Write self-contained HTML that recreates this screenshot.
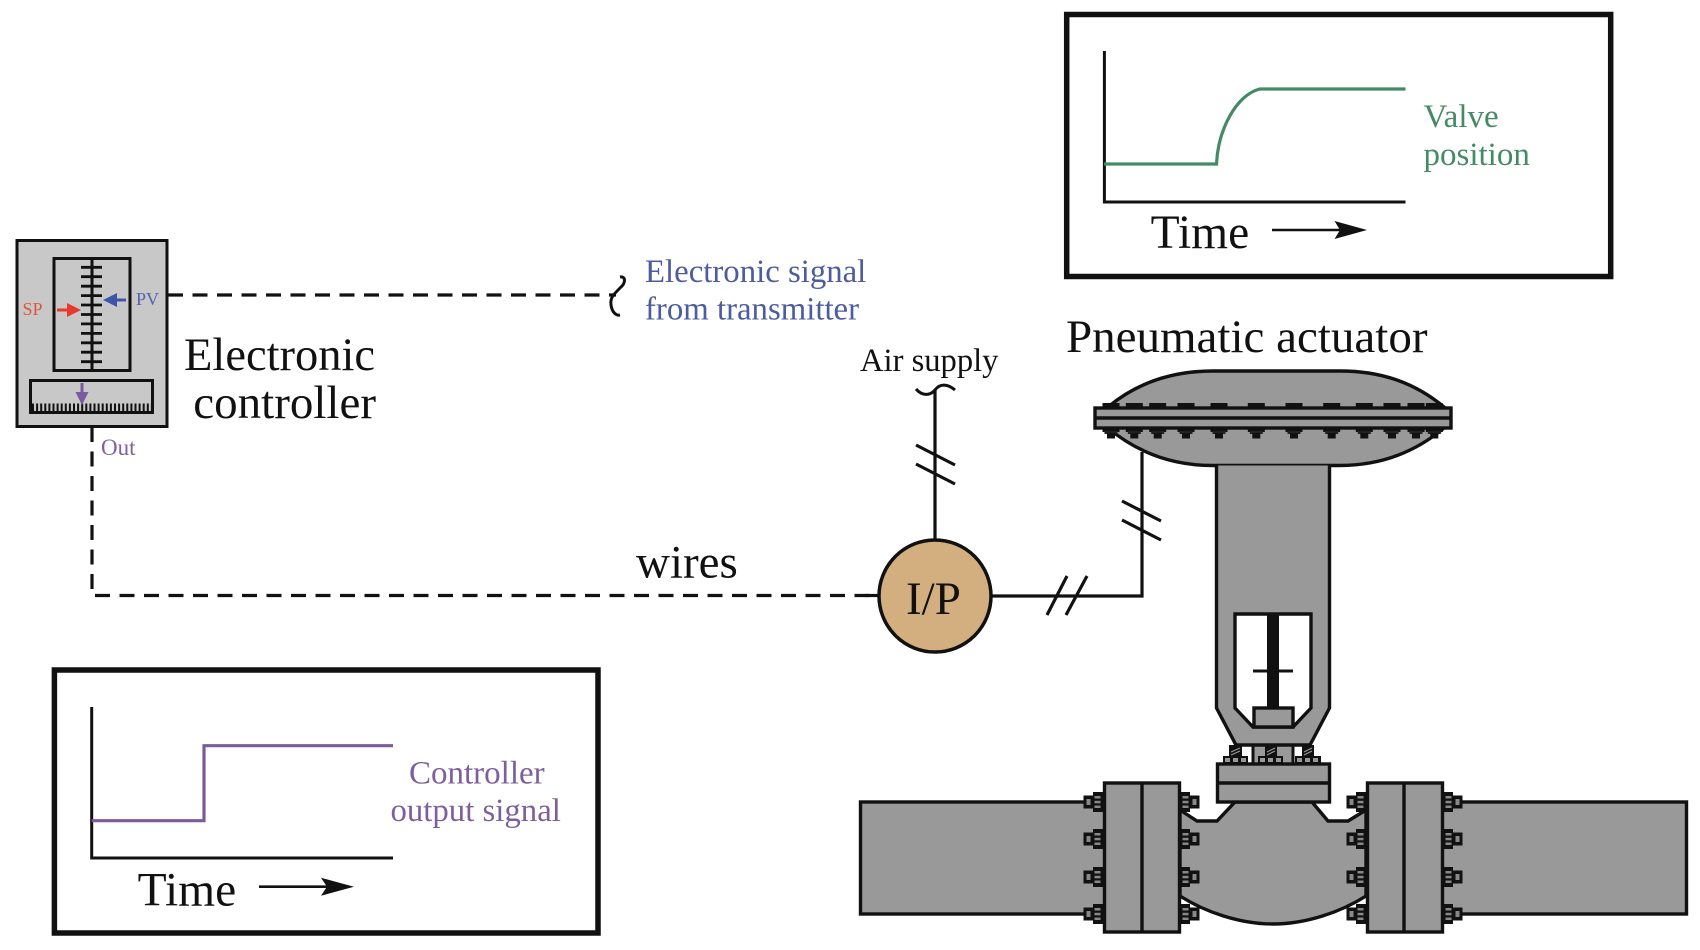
<!DOCTYPE html>
<html>
<head>
<meta charset="utf-8">
<style>
html,body{margin:0;padding:0;background:#fff;width:1700px;height:950px;overflow:hidden}
svg{display:block}
text{font-family:"Liberation Serif",serif;fill:#111}
</style>
</head>
<body>
<svg width="1700" height="950" viewBox="0 0 1700 950" xmlns="http://www.w3.org/2000/svg">
<defs>
<g id="fb">
<rect x="0" y="-10" width="10" height="20" fill="#111"/>
<rect x="2.5" y="-6" width="6" height="2.5" fill="#888"/>
<rect x="2.5" y="-1.2" width="6" height="2.5" fill="#888"/>
<rect x="2.5" y="3.5" width="6" height="2.5" fill="#888"/>
<rect x="10" y="-6.5" width="9.5" height="13" fill="#111"/>
<rect x="12.5" y="-3" width="4" height="6" fill="#888"/>
</g>
<g id="db">
<rect x="-8.5" y="-25" width="17" height="5" fill="#111"/>
<rect x="-8.5" y="0" width="17" height="4" fill="#111"/>
<rect x="-6.5" y="3" width="13" height="3" fill="#222"/>
<rect x="-4" y="5" width="8" height="5.5" fill="#111"/>
</g>
</defs>

<!-- Controller -->
<rect x="17" y="240.5" width="150" height="186" fill="#c8c8c8" stroke="#111" stroke-width="3"/>
<rect x="54" y="258.5" width="76" height="112" fill="#c8c8c8" stroke="#111" stroke-width="3"/>
<line x1="92" y1="258" x2="92" y2="371" stroke="#111" stroke-width="3"/>
<path d="M81 267.3H102M81 276.7H102M81 286.2H102M81 295.6H102M81 305H102M81 314.5H102M81 323.9H102M81 333.4H102M81 342.8H102M81 352.2H102M81 361.7H102" stroke="#111" stroke-width="2.8" fill="none"/>
<rect x="30.5" y="380.5" width="122" height="32" fill="#c8c8c8" stroke="#111" stroke-width="3"/>
<line x1="32" y1="408" x2="152" y2="408" stroke="#111" stroke-width="9" stroke-dasharray="2 2.1"/>
<line x1="57" y1="310" x2="70" y2="310" stroke="#e8392b" stroke-width="3"/>
<polygon points="67,303 81,310 67,317" fill="#e8392b"/>
<line x1="126" y1="300" x2="114" y2="300" stroke="#3f55a8" stroke-width="3"/>
<polygon points="117,293 103,300 117,307" fill="#3f55a8"/>
<line x1="82" y1="383" x2="82" y2="394" stroke="#7a5aa0" stroke-width="3"/>
<polygon points="75.5,392 88.5,392 82,405" fill="#7a5aa0"/>
<text x="22.5" y="315" font-size="18" style="fill:#e0553f">SP</text>
<text x="136" y="305" font-size="18" style="fill:#5064ae">PV</text>
<text x="101" y="455" font-size="23" style="fill:#7d60a5">Out</text>
<text x="184" y="370" font-size="46.5">Electronic</text>
<text x="376" y="418" font-size="47" text-anchor="end">controller</text>

<!-- Signal lines -->
<line x1="168" y1="295" x2="616" y2="295" stroke="#111" stroke-width="3.2" stroke-dasharray="15 9.5"/>
<path d="M620 277C626 276 626 283 620 288C613 295 610 298 611 305C612 312 616 316 620 315" fill="none" stroke="#111" stroke-width="3"/>
<text x="645" y="282" font-size="32.8" style="fill:#4d5c9f">Electronic signal</text>
<text x="645" y="319.5" font-size="32.8" style="fill:#4d5c9f">from transmitter</text>
<path d="M92 427V595.5H878" fill="none" stroke="#111" stroke-width="3.2" stroke-dasharray="15 9.5"/>
<line x1="865" y1="595.5" x2="878" y2="595.5" stroke="#111" stroke-width="3.2"/>
<text x="636" y="577.5" font-size="47">wires</text>

<!-- I/P and air lines -->
<path d="M935 390V540" fill="none" stroke="#111" stroke-width="3.2"/>
<path d="M916 389C922 396 930 396 935 390C940 383 948 384 955 390" fill="none" stroke="#111" stroke-width="3"/>
<path d="M916 445L955 465M916 464L955 484" stroke="#111" stroke-width="3.2"/>
<path d="M992 596H1142V452" fill="none" stroke="#111" stroke-width="3.2"/>
<path d="M1122 501L1161 521M1122 520L1161 540M1047 615L1067 576M1066 615L1087 576" stroke="#111" stroke-width="3.2"/>
<circle cx="935" cy="596" r="56" fill="#d3ae7e" stroke="#111" stroke-width="3.5"/>
<text x="906" y="614" font-size="47">I/P</text>
<text x="860" y="371" font-size="32.6">Air supply</text>
<text x="1066" y="352" font-size="47">Pneumatic actuator</text>

<!-- Pipes -->
<rect x="860.5" y="802" width="250" height="112" fill="#999" stroke="#111" stroke-width="3.4"/>
<rect x="1436" y="802" width="250.5" height="112" fill="#999" stroke="#111" stroke-width="3.4"/>

<!-- Valve body -->
<path d="M1180 810L1197 821H1217L1235 802H1312L1328 821H1348L1366 810V896C1341 912 1306 924 1273 924C1240 924 1205 912 1180 896Z" fill="#999" stroke="#111" stroke-width="3.4"/>

<!-- Flange bolts -->
<g>
<use href="#fb" transform="translate(1103,802) scale(-1,1)"/>
<use href="#fb" transform="translate(1103,839) scale(-1,1)"/>
<use href="#fb" transform="translate(1103,877) scale(-1,1)"/>
<use href="#fb" transform="translate(1103,914) scale(-1,1)"/>
<use href="#fb" transform="translate(1180,802)"/>
<use href="#fb" transform="translate(1180,839)"/>
<use href="#fb" transform="translate(1180,877)"/>
<use href="#fb" transform="translate(1180,914)"/>
<use href="#fb" transform="translate(1366,802) scale(-1,1)"/>
<use href="#fb" transform="translate(1366,839) scale(-1,1)"/>
<use href="#fb" transform="translate(1366,877) scale(-1,1)"/>
<use href="#fb" transform="translate(1366,914) scale(-1,1)"/>
<use href="#fb" transform="translate(1443,802)"/>
<use href="#fb" transform="translate(1443,839)"/>
<use href="#fb" transform="translate(1443,877)"/>
<use href="#fb" transform="translate(1443,914)"/>
</g>
<rect x="1104.5" y="783" width="75" height="149" fill="#999" stroke="#111" stroke-width="3.4"/>
<line x1="1142" y1="783" x2="1142" y2="932" stroke="#111" stroke-width="3.4"/>
<rect x="1367.5" y="783" width="75" height="149" fill="#999" stroke="#111" stroke-width="3.4"/>
<line x1="1404" y1="783" x2="1404" y2="932" stroke="#111" stroke-width="3.4"/>

<!-- Diaphragm -->
<path d="M1108 407C1138 382 1173 371 1213 371H1340C1380 371 1414 382 1444 407V428C1414 453 1380 465.5 1340 465.5H1213C1173 465.5 1138 453 1108 428Z" fill="#999" stroke="#111" stroke-width="3.4"/>
<g>
<use href="#db" transform="translate(1111,428)"/>
<use href="#db" transform="translate(1134.3,428)"/>
<use href="#db" transform="translate(1157.7,428)"/>
<use href="#db" transform="translate(1186,428)"/>
<use href="#db" transform="translate(1219,428)"/>
<use href="#db" transform="translate(1256.3,428)"/>
<use href="#db" transform="translate(1294,428)"/>
<use href="#db" transform="translate(1331.7,428)"/>
<use href="#db" transform="translate(1364.3,428)"/>
<use href="#db" transform="translate(1392,428)"/>
<use href="#db" transform="translate(1416,428)"/>
<use href="#db" transform="translate(1434.3,428)"/>
</g>
<rect x="1095" y="408" width="356" height="20" fill="#999" stroke="#111" stroke-width="3.4"/>
<line x1="1095" y1="418" x2="1451" y2="418" stroke="#111" stroke-width="3.4"/>

<!-- Yoke stem and studs -->
<rect x="1253" y="744" width="40" height="20" fill="#999" stroke="#111" stroke-width="3"/>
<rect x="1229" y="745" width="13" height="12" fill="#111"/>
<rect x="1265" y="745" width="12" height="12" fill="#111"/>
<rect x="1302" y="745" width="12" height="12" fill="#111"/>
<path d="M1231 752L1240 748M1231 755L1240 751M1267 752L1275 748M1267 755L1275 751M1304 752L1312 748M1304 755L1312 751" stroke="#999" stroke-width="1.2"/>
<rect x="1223" y="756" width="25" height="8" fill="#111"/>
<rect x="1258" y="756" width="25" height="8" fill="#111"/>
<rect x="1295" y="756" width="26" height="8" fill="#111"/>
<path d="M1225 758h5v4h-5zM1233 758h5v4h-5zM1241 758h5v4h-5zM1260 758h5v4h-5zM1268 758h5v4h-5zM1276 758h5v4h-5zM1297 758h5v4h-5zM1305 758h5v4h-5zM1313 758h5v4h-5z" fill="#999"/>

<!-- Yoke -->
<path d="M1216.5 465.5V708L1236 745H1310L1329.5 708V465.5" fill="#999" stroke="#111" stroke-width="3.4"/>
<path d="M1235 614H1311V708L1293 727H1253L1235 708Z" fill="#fff" stroke="#111" stroke-width="3.4"/>
<rect x="1267" y="614" width="12" height="94" fill="#111"/>
<line x1="1253" y1="671" x2="1293" y2="671" stroke="#111" stroke-width="3"/>
<rect x="1254" y="708" width="39" height="19" fill="#999" stroke="#111" stroke-width="3.4"/>

<!-- Bonnet flange -->
<rect x="1217.5" y="764" width="112" height="38" fill="#999" stroke="#111" stroke-width="3.4"/>
<line x1="1217" y1="783" x2="1330" y2="783" stroke="#111" stroke-width="3.4"/>

<!-- Top graph -->
<rect x="1066.7" y="14.5" width="544" height="262" fill="#fff" stroke="#111" stroke-width="5.5"/>
<path d="M1104.4 51V202H1405.5" fill="none" stroke="#111" stroke-width="3"/>
<path d="M1104 164H1216.5C1218 130 1236 95 1259.8 89H1405.5" fill="none" stroke="#448a64" stroke-width="3.2"/>
<text x="1423.5" y="127" font-size="33" style="fill:#448a64">Valve</text>
<text x="1423.5" y="165" font-size="33" style="fill:#448a64">position</text>
<text x="1150.6" y="248" font-size="47.5">Time</text>
<line x1="1272" y1="230" x2="1340" y2="230" stroke="#111" stroke-width="2.6"/>
<polygon points="1334.5,221 1367,230 1334.5,239 1340,230" fill="#111"/>

<!-- Bottom graph -->
<rect x="54.4" y="670" width="543.6" height="263" fill="#fff" stroke="#111" stroke-width="5.5"/>
<path d="M91.7 707V858H393" fill="none" stroke="#111" stroke-width="3"/>
<path d="M91.7 820.7H204V745.7H393" fill="none" stroke="#7d5a9a" stroke-width="3.2"/>
<text x="409" y="783.5" font-size="33" style="fill:#7d5f9e">Controller</text>
<text x="390.5" y="821" font-size="32.8" style="fill:#7d5f9e">output signal</text>
<text x="137.6" y="905.7" font-size="47.5">Time</text>
<line x1="259" y1="886.7" x2="327" y2="886.7" stroke="#111" stroke-width="2.6"/>
<polygon points="321,877.7 354,886.7 321,895.7 327,886.7" fill="#111"/>
</svg>
</body>
</html>
